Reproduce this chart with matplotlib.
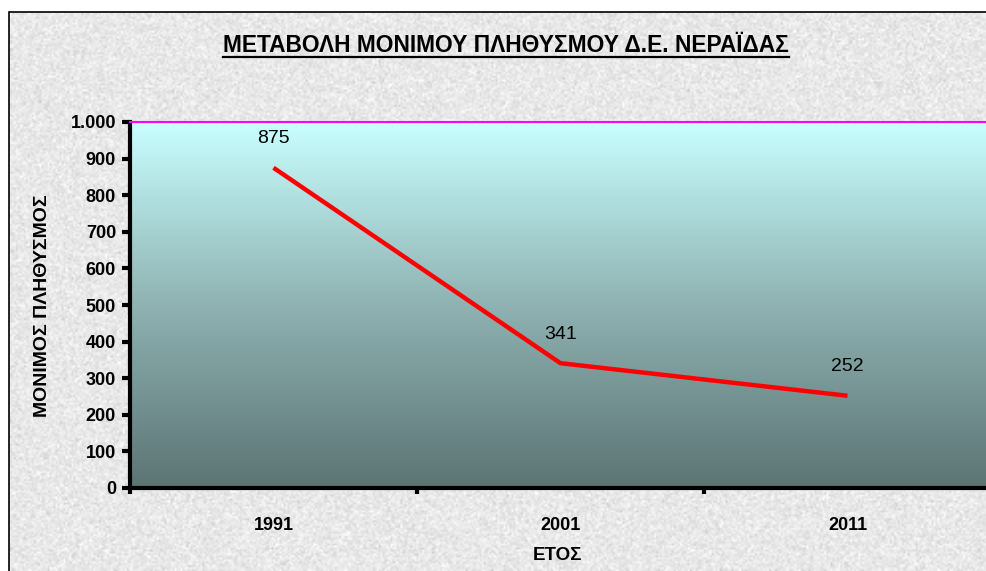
import matplotlib
matplotlib.use("Agg")
import matplotlib.pyplot as plt
import numpy as np
from matplotlib.colors import LinearSegmentedColormap
from matplotlib.patches import Rectangle
from matplotlib.ticker import FuncFormatter

years = ["1991", "2001", "2011"]
population = [875, 341, 252]
yticks = [0, 100, 200, 300, 400, 500, 600, 700, 800, 900, 1000]

title = "ΜΕΤΑΒΟΛΗ ΜΟΝΙΜΟΥ ΠΛΗΘΥΣΜΟΥ Δ.Ε. ΝΕΡΑΪΔΑΣ"
ylabel = "ΜΟΝΙΜΟΣ ΠΛΗΘΥΣΜΟΣ"
xlabel = "ΕΤΟΣ"

plt.rcParams['font.family'] = ['Liberation Sans', 'DejaVu Sans']

W, H = 987, 571
fig = plt.figure(figsize=(W / 100, H / 100), dpi=100)
fig.patch.set_facecolor("white")

# chart area background (light gray, textured look)
bg = Rectangle((9 / W, -0.01), 1.1, 1 - 12 / H + 0.01, transform=fig.transFigure,
               facecolor="#e7e7e7", edgecolor="black", linewidth=1.2, zorder=0)
fig.patches.append(bg)
rng = np.random.default_rng(3)
tex = rng.normal(0.91, 0.035, size=(H // 2, W // 2)).clip(0.75, 1.0)
tax = fig.add_axes([10 / W, 0, 1 - 10 / W, 1 - 13 / H], zorder=0.5)
tax.imshow(tex, cmap="gray", vmin=0, vmax=1, aspect="auto", interpolation="bilinear")
tax.axis("off")

# plot axes
left, top, bottom = 130, 122, 488
right = 991
ax = fig.add_axes([left / W, 1 - bottom / H, (right - left) / W, (bottom - top) / H], zorder=2)
ax.set_xlim(0, 3)
ax.set_ylim(0, 1000)

cmap = LinearSegmentedColormap.from_list("g", ["#5c7474", "#8fb2b2", "#c9ffff"])
grad = np.linspace(0, 1, 256).reshape(-1, 1)
ax.imshow(grad, cmap=cmap, extent=[0, 3, 0, 1000], origin="lower", aspect="auto", zorder=0)

xs = np.arange(len(years)) + 0.5
ax.plot(xs, population, color="#ff0000", linewidth=3.2, solid_capstyle="butt", zorder=3)
for x, v in zip(xs, population):
    ax.annotate(str(v), (x, v), xytext=(0, 21), textcoords="offset points",
                ha="center", va="center", fontsize=14, color="black")

ax.set_yticks(yticks)
ax.yaxis.set_major_formatter(FuncFormatter(lambda v, p: f"{int(v):,}".replace(",", ".")))
ax.set_xticks([0, 1, 2, 3])
ax.set_xticklabels([])
ax.set_xticks(xs, minor=True)
ax.set_xticklabels(years, minor=True, fontsize=13, fontweight="bold")
ax.tick_params(axis="x", which="minor", length=0, pad=21)
ax.tick_params(axis="x", which="major", direction="out", length=4, width=3)
ax.tick_params(axis="y", direction="out", length=6, width=3, labelsize=13, pad=4)
for lab in ax.get_yticklabels():
    lab.set_fontweight("bold")

for s in ["left", "bottom"]:
    ax.spines[s].set_linewidth(3)
    ax.spines[s].set_color("black")
ax.spines["top"].set_color("#ff00ff")
ax.spines["top"].set_linewidth(1.5)
ax.spines["right"].set_visible(False)

fig.text(43 / W, 1 - 306 / H, ylabel, rotation=90, ha="center", va="center",
         fontsize=14, fontweight="bold")
fig.text(558 / W, 1 - 555 / H, xlabel, ha="center", va="center", fontsize=13.5, fontweight="bold")

t = fig.text(506 / W, 1 - 45 / H, title, ha="center", va="center", fontsize=16.4,
             fontweight="bold")
fig.canvas.draw()
bb = t.get_window_extent()
fig.add_artist(plt.Line2D([bb.x0 / W, bb.x1 / W], [1 - 56.5 / H, 1 - 56.5 / H],
                          transform=fig.transFigure, color="black", linewidth=1.6))

fig.savefig("out.png", dpi=100)
